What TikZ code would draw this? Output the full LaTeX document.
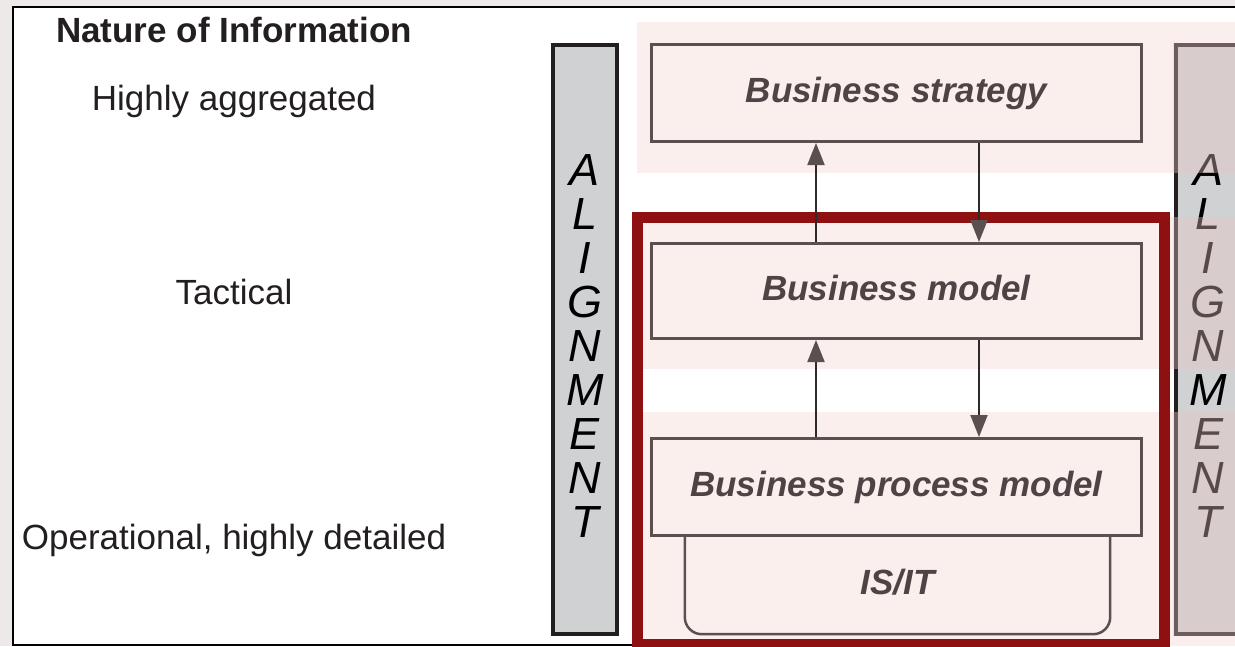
\documentclass[tikz,border=0pt]{standalone}
\usepackage{fontspec}
\setmainfont{Liberation Sans}
\usetikzlibrary{arrows.meta,calc}
\definecolor{bgout}{HTML}{EDE9E9}
\definecolor{pinkband}{HTML}{FBEFEE}
\definecolor{bargray}{HTML}{D0D1D3}
\definecolor{barline}{HTML}{231F20}
\definecolor{boxline}{HTML}{5A5050}
\definecolor{boxtext}{HTML}{4E4446}
\definecolor{darkred}{HTML}{8F1010}
\definecolor{arrowc}{HTML}{2E2A2B}
\definecolor{overlaypink}{RGB}{232,196,196}
\definecolor{labeltext}{HTML}{231F20}
\tikzset{
  infotext/.style={font=\fontsize{35}{40}\selectfont, text=labeltext, anchor=base},
  layerbox/.style={draw=boxline, line width=3pt, fill=pinkband, inner sep=0pt,
    text=boxtext, font=\fontsize{35}{40}\selectfont\bfseries\itshape,
    text height=25pt, text depth=7pt},
  isitbox/.style={inner sep=0pt, text=boxtext,
    font=\fontsize{35}{40}\selectfont\bfseries\itshape,
    text height=25pt, text depth=7pt},
  alletter/.style={font=\fontsize{45}{44}\selectfont\itshape, anchor=base, inner sep=0pt, text=black},
  flow/.style={draw=arrowc, line width=2pt, -{Triangle[length=22pt,width=17pt,color=boxline]}},
  barbox/.style={draw=barline, line width=4pt, fill=bargray},
}
\begin{document}
\begin{tikzpicture}[x=1pt,y=-1pt]
\useasboundingbox (0,0) rectangle (1235,646);
\fill[bgout] (0,0) rectangle (1235,646);
\draw[black, line width=2pt, fill=white] (13,7) rectangle (1260,645);
% pink bands
\fill[pinkband] (637,22) rectangle (1235,173);
\fill[pinkband] (643,217) rectangle (1235,369);
\fill[pinkband] (643,412) rectangle (1235,646);
% alignment bars
\draw[barbox] (553,45) rectangle (617,634);
\draw[barbox] (1176,45) rectangle (1244,634);
\foreach \l [count=\i from 0] in {A,L,I,G,N,M,E,N,T} {
  \node[alletter] (aL\i) at (585,185+44*\i) {\l};
  \node[alletter] (aR\i) at (1208,185+44*\i) {\l};
}
% translucent pink over the right bar
\fill[overlaypink, opacity=0.38] (1173,43) rectangle (1235,173);
\fill[overlaypink, opacity=0.38] (1173,217) rectangle (1235,369);
\fill[overlaypink, opacity=0.38] (1173,412) rectangle (1235,636);
% red frame
\draw[darkred, line width=11pt] (637.5,217.5) rectangle (1164.5,644.5);
% left labels
\node[infotext, font=\fontsize{35}{40}\selectfont\bfseries] (nature) at (234,42) {Nature of Information};
\node[infotext] (high) at (234,110) {Highly aggregated};
\node[infotext] (tact) at (234,304) {Tactical};
\node[infotext] (oper) at (234,549) {Operational, highly detailed};
% layer boxes
\node[isitbox, minimum width=425pt, minimum height=97pt] (isit) at (897.5,585.5) {IS/IT};
\draw[boxline, line width=2.5pt, rounded corners=17pt] (isit.north west) |- (isit.south east) -- (isit.north east);
\node[layerbox, minimum width=490pt, minimum height=97pt] (bs) at (896.5,93) {Business strategy};
\node[layerbox, minimum width=490pt, minimum height=95pt] (bm) at (896.5,291) {Business model};
\node[layerbox, minimum width=490pt, minimum height=97pt] (bpm) at (896.5,487) {Business process model};
% connectors
\coordinate (upx) at (816,0);
\coordinate (dnx) at (979,0);
\draw[flow] (bm.north -| upx) -- (bs.south -| upx);
\draw[flow] (bs.south -| dnx) -- (bm.north -| dnx);
\draw[flow] (bpm.north -| upx) -- (bm.south -| upx);
\draw[flow] (bm.south -| dnx) -- (bpm.north -| dnx);
\end{tikzpicture}
\end{document}
